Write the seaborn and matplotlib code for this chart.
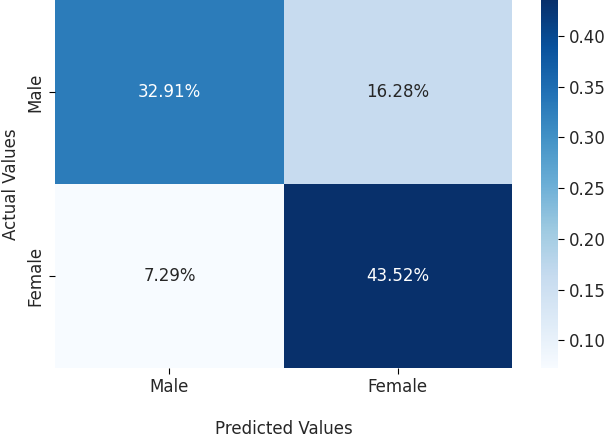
import numpy as np
import matplotlib
matplotlib.use("Agg")
import matplotlib.pyplot as plt
import seaborn as sns

labels = ["Male", "Female"]
row0 = [0.3291, 0.1628]
row1 = [0.0729, 0.4352]

data = np.array([row0, row1])
annot = np.array([[f"{v:.2%}" for v in r] for r in data])

fig = plt.figure(figsize=(6.06, 4.38), dpi=100)
ax = fig.add_axes([0.091, 0.160, 0.754, 0.840])
cax = fig.add_axes([0.893, 0.160, 0.028, 0.840])
sns.heatmap(data, annot=annot, fmt="", cmap="Blues", ax=ax, cbar_ax=cax,
            xticklabels=labels, yticklabels=labels,
            annot_kws={"fontsize": 12})
ax.set_xlabel("Predicted Values", fontsize=12, labelpad=17, color="#262626")
ax.set_ylabel("Actual Values", fontsize=12, labelpad=5, color="#262626")
ax.tick_params(labelsize=12, labelcolor="#262626", length=4)
cax.tick_params(labelsize=12, labelcolor="#262626", length=4)
cax.set_yticks([0.10, 0.15, 0.20, 0.25, 0.30, 0.35, 0.40])
for sp in cax.spines.values():
    sp.set_visible(False)
fig.savefig("out.png", dpi=100)
